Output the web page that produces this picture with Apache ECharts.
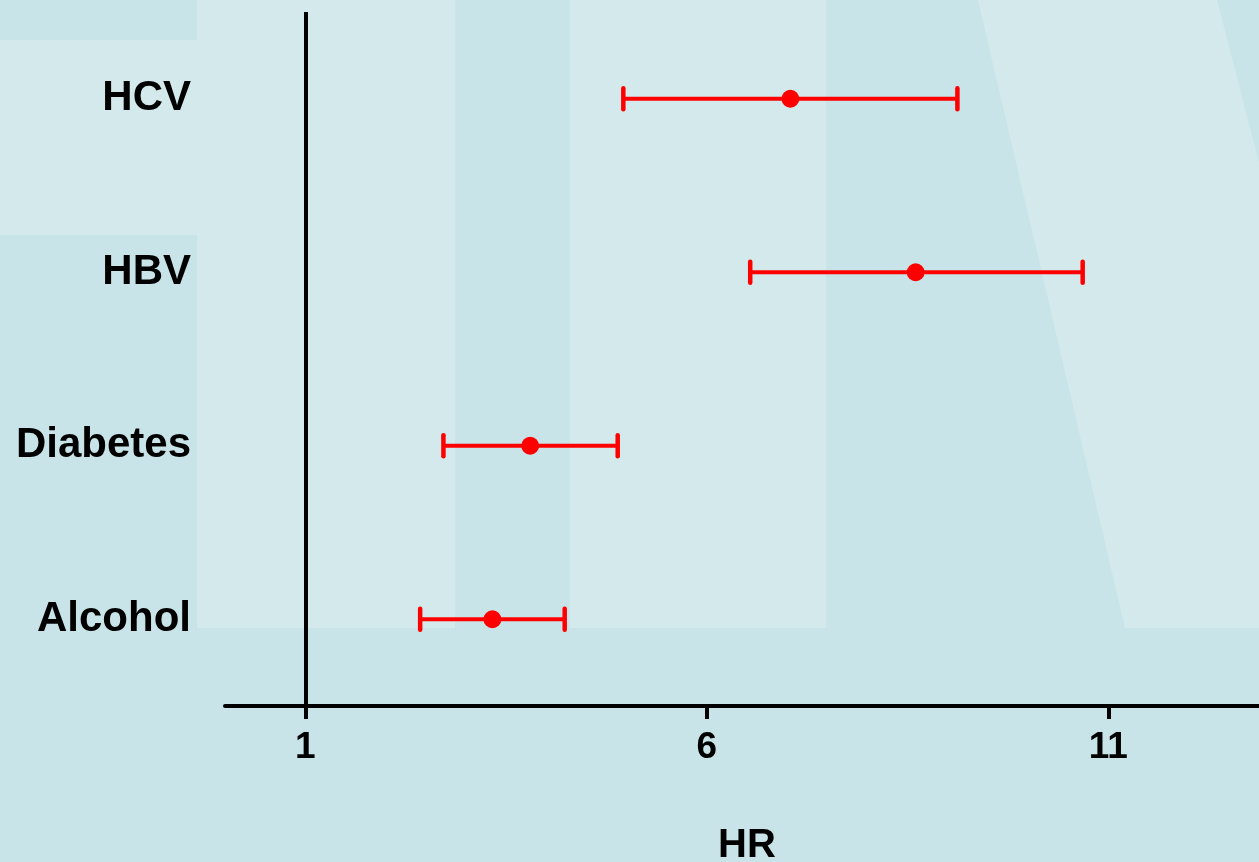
<!DOCTYPE html>
<html>
<head>
<meta charset="utf-8">
<script src="https://cdn.jsdelivr.net/npm/echarts@6/dist/echarts.min.js"></script>
<style>
html,body{margin:0;padding:0;background:#c8e4e8;overflow:hidden;}
#chart{width:1259px;height:862px;}
</style>
</head>
<body>
<div id="chart"></div>
<script>
// Data (bottom to top)
const categories = ['Alcohol', 'Diabetes', 'HBV', 'HCV'];
const hrValues = [3.33, 3.80, 8.60, 7.04];
const lowerCI = [2.43, 2.72, 6.54, 4.96];
const upperCI = [4.23, 4.89, 10.68, 9.12];
const xTickValues = [1, 6, 11];
const referenceHR = 1;
const xAxisName = 'HR';

const chart = echarts.init(document.getElementById('chart'));

const BG_DARK = '#c8e4e8';
const BG_LIGHT = '#d4e9ec';

const option = {
  backgroundColor: BG_DARK,
  animation: false,
  graphic: [
    { type: 'rect', z: -10, silent: true, shape: { x: 0, y: 40, width: 197, height: 195 }, style: { fill: BG_LIGHT } },
    { type: 'rect', z: -10, silent: true, shape: { x: 197, y: 0, width: 258, height: 628 }, style: { fill: BG_LIGHT } },
    { type: 'rect', z: -10, silent: true, shape: { x: 570, y: 0, width: 256, height: 628 }, style: { fill: BG_LIGHT } },
    { type: 'polygon', z: -10, silent: true, shape: { points: [[978, 0], [1217, 0], [1259, 163], [1259, 628], [1125, 628]] }, style: { fill: BG_LIGHT } }
  ],
  grid: { left: 225, top: 12, width: 1044, bottom: 156, containLabel: false, outerBoundsMode: 'none' },
  xAxis: {
    type: 'value',
    min: 0,
    max: 13,
    name: xAxisName,
    nameLocation: 'middle',
    nameGap: 120,
    nameTextStyle: { fontFamily: 'Liberation Sans', fontWeight: 'bold', fontSize: 40, color: '#000' },
    axisLine: { show: true, lineStyle: { color: '#000', width: 4, cap: 'round' } },
    axisTick: { show: true, length: 13, lineStyle: { color: '#000', width: 4 }, customValues: xTickValues },
    axisLabel: { show: true, margin: 23, fontFamily: 'Liberation Sans', fontWeight: 'bold', fontSize: 37, color: '#000', customValues: xTickValues },
    splitLine: { show: false }
  },
  yAxis: {
    type: 'category',
    data: categories,
    boundaryGap: true,
    axisLine: { show: false },
    axisTick: { show: false },
    axisLabel: { margin: 34, padding: [5, 0, 0, 0], fontFamily: 'Liberation Sans', fontWeight: 'bold', fontSize: 42, color: '#000' },
    splitLine: { show: false }
  },
  series: [
    {
      type: 'custom',
      name: 'CI',
      data: categories.map((c, i) => [i, lowerCI[i], upperCI[i]]),
      encode: { x: [1, 2], y: 0 },
      renderItem: function (params, api) {
        const cat = api.value(0);
        const lo = api.coord([api.value(1), cat]);
        const hi = api.coord([api.value(2), cat]);
        const capH = 10.5;
        const style = { stroke: '#ff0000', lineWidth: 4.5, lineCap: 'round' };
        return {
          type: 'group',
          children: [
            { type: 'line', shape: { x1: lo[0], y1: lo[1], x2: hi[0], y2: hi[1] }, style: { stroke: '#ff0000', lineWidth: 4 } },
            { type: 'line', shape: { x1: lo[0], y1: lo[1] - capH, x2: lo[0], y2: lo[1] + capH }, style: style },
            { type: 'line', shape: { x1: hi[0], y1: hi[1] - capH, x2: hi[0], y2: hi[1] + capH }, style: style }
          ]
        };
      },
      z: 3
    },
    {
      type: 'scatter',
      name: 'HR',
      data: categories.map((c, i) => [hrValues[i], i]),
      symbol: 'circle',
      symbolSize: 18,
      itemStyle: { color: '#ff0000', opacity: 1 },
      z: 4,
      markLine: {
        silent: true,
        symbol: 'none',
        label: { show: false },
        lineStyle: { color: '#000', width: 4, type: 'solid' },
        data: [{ xAxis: referenceHR }],
        z: 2
      }
    }
  ]
};

chart.setOption(option);
</script>
</body>
</html>
